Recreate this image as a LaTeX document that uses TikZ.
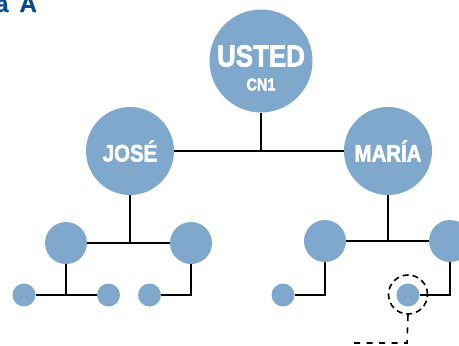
\documentclass[tikz,border=0pt]{standalone}
\usepackage{fontspec}
\setmainfont{Liberation Sans}
\newfontfamily\condfont[FakeStretch=0.85,FakeBold=2]{Liberation Sans Bold}
\newfontfamily\titlefont[FakeBold=0.8]{Liberation Sans Bold}
\definecolor{nodeblue}{RGB}{127,168,204}
\definecolor{titleblue}{RGB}{10,74,152}
\begin{document}
\begin{tikzpicture}[x=1pt,y=-1pt,
  person/.style={circle,fill=nodeblue,draw=none,inner sep=0pt,text=white,font=\condfont},
  big/.style={person,minimum size=103pt},
  mid/.style={person,minimum size=88pt},
  sml/.style={person,minimum size=42pt},
  tiny/.style={person,minimum size=23pt},
  link/.style={draw=black,line width=1.4pt},
  dashlink/.style={draw=black,line width=1.6pt,dash pattern=on 6pt off 6.5pt}]
\clip (0,0) rectangle (459,346);
\useasboundingbox (0,0) rectangle (459,346);
% title (clipped at the top and left, as in the reference)
\node[anchor=base west,inner sep=0pt,text=titleblue,font=\titlefont\fontsize{24}{24}\selectfont] (title) at (-5,12) {a\hspace{11pt}A};
% nodes
\node[big] (usted) at (261,61) {};
\node[font=\condfont\fontsize{30.5}{30.5}\selectfont,text=white,inner sep=0pt] (ustedtxt) at (261,56) {USTED};
\node[font=\condfont\fontsize{17}{17}\selectfont,text=white,inner sep=0pt] (cntxt) at (261,84.5) {CN1};
\node[mid,font=\condfont\fontsize{24}{24}\selectfont] (jose) at (130,151) {JOSÉ};
\node[mid,font=\condfont\fontsize{24}{24}\selectfont] (maria) at (388,151) {MARÍA};
\node[sml] (l1) at (66,243) {};
\node[sml] (l2) at (191,243) {};
\node[sml] (r1) at (325,241) {};
\node[sml] (r2) at (450,241) {};
\node[tiny] (s1) at (24,295) {};
\node[tiny] (s2) at (108.5,295) {};
\node[tiny] (s3) at (149.5,295) {};
\node[tiny] (s4) at (283,295) {};
\node[tiny] (s5) at (408,295) {};
\node[circle,minimum size=39pt,inner sep=0pt,draw=black,line width=1.6pt,dash pattern=on 6pt off 4pt] (ring) at (408,294.5) {};
% junction coordinates
\coordinate (jtop) at (261,151);
\coordinate (jl) at (130,243);
\coordinate (jr) at (388,241);
\coordinate (jl1) at (66,295);
\coordinate (cl2) at (191,295);
\coordinate (cr1) at (325,295);
\coordinate (cr2) at (450,295);
\coordinate (dcorner) at (407,343);
\coordinate (dend) at (352,343);
% connectors
\draw[link] (jose) -- (maria);
\draw[link] (usted) -- (jtop);
\draw[link] (l1) -- (l2);
\draw[link] (jose) -- (jl);
\draw[link] (r1) -- (r2);
\draw[link] (maria) -- (jr);
\draw[link] (s1) -- (s2);
\draw[link] (l1) -- (jl1);
\draw[link] (l2) -- (cl2) -- (s3);
\draw[link] (r1) -- (cr1) -- (s4);
\draw[link] (r2) -- (cr2) -- (s5);
\draw[dashlink] (ring.south) -- (dcorner) -- (dend);
\end{tikzpicture}
\end{document}
